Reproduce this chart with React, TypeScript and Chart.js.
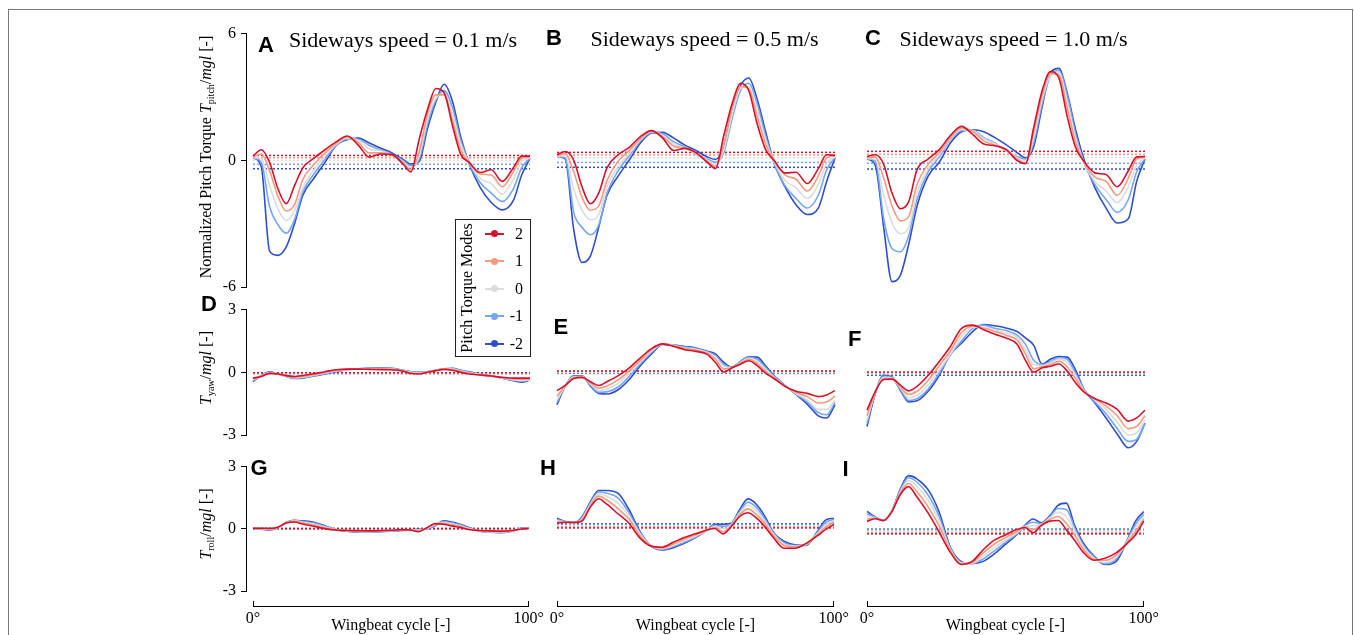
import React, { useEffect, useRef } from "react";
import { Chart, registerables } from "chart.js";

Chart.register(...registerables);

// ---------------- data ----------------
const PHASE = [0, 3, 6, 9, 12, 15, 18, 22, 26, 30, 34, 38, 42, 46, 50, 54, 57, 60, 63, 66, 69, 72, 75, 78, 82, 86, 90, 94, 97, 100];
const MODE_LABELS = ["2", "1", "0", "-1", "-2"];
const MODE_COLORS = ["#d7102b", "#f59a7c", "#dcdcdc", "#74a6f4", "#2d4ec8"];
const SPEED_LABELS = ["0.1", "0.5", "1.0"];
const PITCH_TICKS = [-6, 0, 6];
const SIDE_TICKS = [-3, 0, 3];
const PHASE_TICKS = [0, 100];

// Panel A: pitch, 0.1 m/s
const A_MODE2 = [0.2, 0.5, -0.1, -1.35, -2.05, -1.2, -0.35, 0.1, 0.5, 0.87, 1.15, 0.72, 0.15, 0.3, 0.28, -0.15, -0.55, 1.0, 2.4, 3.4, 3.2, 1.65, 0.28, -0.1, -0.58, -0.45, -1.0, -0.35, 0.2, 0.2];
const A_MODE1 = [0.15, 0.3, -0.5, -1.7, -2.4, -2.1, -0.9, -0.2, 0.35, 0.8, 1.1, 0.85, 0.35, 0.35, 0.25, -0.1, -0.45, 0.4, 2.2, 3.1, 3.1, 1.9, 0.5, -0.1, -0.65, -0.7, -1.25, -0.55, 0.1, 0.15];
const A_MODE0 = [0.12, 0.1, -1.2, -2.3, -2.85, -2.4, -1.3, -0.45, 0.2, 0.75, 1.05, 0.95, 0.55, 0.45, 0.25, -0.05, -0.35, 0.2, 1.95, 2.95, 3.15, 2.2, 0.75, -0.1, -0.85, -1.1, -1.6, -0.9, -0.05, 0.12];
const A_MODEm1 = [0.12, -0.1, -2.2, -3.05, -3.45, -2.8, -1.5, -0.65, 0.05, 0.72, 1.0, 1.0, 0.7, 0.5, 0.3, 0.0, -0.25, 0.05, 1.7, 2.85, 3.3, 2.5, 0.95, -0.12, -1.05, -1.55, -1.95, -1.35, -0.35, 0.1];
const A_MODEm2 = [0.12, -0.3, -4.3, -4.5, -4.1, -3.0, -1.65, -0.85, -0.1, 0.7, 0.98, 1.05, 0.82, 0.58, 0.36, 0.05, -0.18, -0.05, 1.5, 2.75, 3.6, 2.8, 1.1, -0.15, -1.28, -2.0, -2.35, -1.9, -0.7, 0.1];
const A_MEANS = [0.23, 0.12, 0.0, -0.19, -0.4];

// Panel B: pitch, 0.5 m/s
const B_MODE2 = [0.2, 0.35, -0.05, -1.3, -2.1, -1.6, -0.4, 0.2, 0.55, 1.05, 1.33, 0.98, 0.4, 0.5, 0.3, -0.15, -0.45, 1.1, 2.6, 3.55, 3.2, 1.65, 0.45, -0.05, -0.66, -0.62, -1.15, -0.45, 0.2, 0.17];
const B_MODE1 = [0.15, 0.25, -0.6, -1.8, -2.4, -2.2, -1.0, -0.1, 0.4, 0.95, 1.3, 1.05, 0.6, 0.5, 0.28, -0.1, -0.35, 0.7, 2.4, 3.4, 3.3, 2.0, 0.7, -0.05, -0.75, -0.95, -1.5, -0.8, 0.05, 0.15];
const B_MODE0 = [0.12, 0.15, -1.4, -2.4, -2.85, -2.6, -1.3, -0.35, 0.25, 0.9, 1.28, 1.1, 0.7, 0.5, 0.25, -0.05, -0.25, 0.45, 2.1, 3.3, 3.4, 2.3, 0.9, -0.1, -1.0, -1.35, -1.85, -1.2, -0.2, 0.1];
const B_MODEm1 = [0.12, 0.05, -2.5, -3.2, -3.55, -3.1, -1.6, -0.55, 0.15, 0.85, 1.25, 1.18, 0.8, 0.55, 0.22, 0.0, -0.15, 0.3, 1.9, 3.2, 3.55, 2.6, 1.1, -0.15, -1.25, -1.85, -2.3, -1.7, -0.5, 0.08];
const B_MODEm2 = [0.12, 0.0, -3.3, -4.85, -4.55, -3.2, -1.7, -0.8, -0.05, 0.75, 1.22, 1.25, 0.98, 0.65, 0.4, 0.1, -0.02, 0.6, 2.4, 3.45, 3.8, 2.8, 1.3, -0.15, -1.3, -2.15, -2.6, -2.3, -1.05, 0.05];
const B_MEANS = [0.31, 0.19, 0.05, -0.16, -0.39];

// Panel C: pitch, 1.0 m/s
const C_MODE2 = [0.12, 0.2, -0.25, -1.6, -2.33, -2.0, -0.5, 0.0, 0.44, 1.1, 1.53, 1.15, 0.7, 0.62, 0.45, -0.08, -0.22, 1.5, 3.2, 4.1, 3.8, 2.0, 0.55, -0.1, -0.65, -0.73, -1.3, -0.55, 0.1, 0.12];
const C_MODE1 = [0.05, 0.1, -0.9, -2.2, -2.9, -2.7, -1.2, -0.25, 0.3, 1.0, 1.45, 1.3, 0.85, 0.65, 0.42, 0.0, -0.2, 1.3, 3.0, 4.0, 3.95, 2.4, 0.8, -0.15, -0.85, -1.05, -1.7, -0.9, 0.0, 0.08];
const C_MODE0 = [0.02, 0.0, -1.7, -3.0, -3.5, -3.2, -1.6, -0.45, 0.2, 0.95, 1.38, 1.33, 0.95, 0.72, 0.4, 0.05, -0.1, 1.0, 2.8, 3.9, 4.05, 2.7, 1.0, -0.15, -1.05, -1.5, -2.05, -1.3, -0.3, 0.05];
const C_MODEm1 = [0.0, -0.1, -2.8, -4.2, -4.35, -3.6, -1.9, -0.6, 0.1, 0.9, 1.33, 1.35, 1.0, 0.75, 0.38, 0.1, 0.0, 0.8, 2.6, 3.9, 4.15, 3.0, 1.2, -0.15, -1.2, -1.9, -2.5, -1.9, -0.6, 0.02];
const C_MODEm2 = [0.0, -0.3, -3.2, -5.75, -5.45, -4.0, -2.2, -0.8, -0.15, 0.75, 1.28, 1.37, 1.28, 1.0, 0.67, 0.3, 0.05, 0.6, 2.45, 4.05, 4.25, 3.1, 1.4, 0.0, -1.35, -2.3, -3.0, -2.8, -1.05, 0.0];
const C_MEANS = [0.36, 0.22, 0.08, -0.2, -0.47];

// Panel D: yaw, 0.1 m/s
const D_MODE2 = [-0.28, -0.2, -0.05, -0.08, -0.16, -0.2, -0.15, -0.07, 0.03, 0.12, 0.15, 0.15, 0.14, 0.13, 0.12, 0.06, -0.06, -0.08, 0.0, 0.08, 0.14, 0.1, 0.0, -0.08, -0.13, -0.18, -0.24, -0.28, -0.28, -0.28];
const D_MODE1 = [-0.32, -0.18, -0.03, -0.08, -0.18, -0.23, -0.2, -0.11, 0.0, 0.1, 0.14, 0.16, 0.16, 0.15, 0.14, 0.08, -0.03, -0.06, 0.0, 0.08, 0.15, 0.13, 0.03, -0.05, -0.12, -0.18, -0.26, -0.32, -0.34, -0.32];
const D_MODE0 = [-0.36, -0.17, -0.01, -0.08, -0.19, -0.26, -0.23, -0.14, -0.03, 0.07, 0.13, 0.16, 0.17, 0.17, 0.16, 0.09, 0.0, -0.04, 0.01, 0.09, 0.16, 0.15, 0.06, -0.02, -0.1, -0.18, -0.27, -0.35, -0.39, -0.35];
const D_MODEm1 = [-0.4, -0.16, 0.0, -0.08, -0.2, -0.28, -0.26, -0.16, -0.06, 0.05, 0.12, 0.17, 0.18, 0.19, 0.18, 0.1, 0.02, -0.02, 0.02, 0.1, 0.17, 0.17, 0.08, 0.0, -0.09, -0.18, -0.28, -0.38, -0.43, -0.36];
const D_MODEm2 = [-0.44, -0.15, 0.02, -0.08, -0.2, -0.3, -0.28, -0.18, -0.08, 0.03, 0.12, 0.17, 0.19, 0.2, 0.19, 0.1, 0.03, 0.0, 0.03, 0.1, 0.17, 0.19, 0.1, 0.02, -0.08, -0.18, -0.28, -0.4, -0.47, -0.37];
const D_MEANS = [-0.02, -0.03, -0.04, -0.05, -0.06];

// Panel E: yaw, 0.5 m/s
const E_MODE2 = [-0.92, -0.67, -0.35, -0.3, -0.5, -0.68, -0.5, -0.22, 0.15, 0.62, 1.05, 1.27, 1.15, 1.0, 0.92, 0.78, 0.4, -0.05, 0.15, 0.32, 0.48, 0.25, -0.1, -0.35, -0.72, -0.95, -1.05, -1.2, -1.12, -0.92];
const E_MODE1 = [-1.18, -0.7, -0.32, -0.3, -0.55, -0.8, -0.7, -0.42, 0.02, 0.5, 1.0, 1.27, 1.18, 1.05, 0.98, 0.83, 0.55, 0.1, 0.15, 0.36, 0.55, 0.35, -0.02, -0.3, -0.72, -1.0, -1.2, -1.5, -1.45, -1.18];
const E_MODE0 = [-1.35, -0.7, -0.28, -0.27, -0.6, -0.9, -0.85, -0.58, -0.1, 0.42, 0.93, 1.27, 1.2, 1.08, 1.02, 0.87, 0.65, 0.22, 0.16, 0.4, 0.6, 0.45, 0.08, -0.27, -0.7, -1.05, -1.35, -1.8, -1.8, -1.35];
const E_MODEm1 = [-1.48, -0.7, -0.25, -0.24, -0.65, -1.0, -0.98, -0.75, -0.25, 0.33, 0.87, 1.26, 1.21, 1.12, 1.05, 0.9, 0.73, 0.3, 0.17, 0.43, 0.64, 0.55, 0.17, -0.23, -0.68, -1.08, -1.45, -1.95, -2.05, -1.48];
const E_MODEm2 = [-1.58, -0.7, -0.22, -0.22, -0.7, -1.05, -1.08, -0.88, -0.4, 0.25, 0.8, 1.25, 1.22, 1.15, 1.08, 0.93, 0.8, 0.4, 0.18, 0.45, 0.67, 0.65, 0.25, -0.2, -0.67, -1.1, -1.55, -2.1, -2.2, -1.58];
const E_MEANS = [0.0, -0.02, -0.05, -0.09, -0.11];

// Panel F: yaw, 1.0 m/s
const F_MODE2 = [-1.84, -0.95, -0.4, -0.38, -0.66, -0.93, -0.72, -0.2, 0.45, 1.15, 2.0, 2.15, 1.93, 1.72, 1.55, 1.25, 0.5, -0.05, 0.15, 0.22, 0.33, 0.0, -0.55, -0.98, -1.3, -1.5, -1.8, -2.35, -2.2, -1.84];
const F_MODE1 = [-2.1, -1.0, -0.35, -0.35, -0.75, -1.1, -0.95, -0.45, 0.25, 0.95, 1.8, 2.1, 2.0, 1.85, 1.68, 1.45, 0.8, 0.1, 0.2, 0.3, 0.45, 0.2, -0.35, -0.95, -1.3, -1.65, -2.1, -2.7, -2.6, -2.1];
const F_MODE0 = [-2.3, -1.0, -0.3, -0.33, -0.8, -1.25, -1.15, -0.65, 0.05, 0.8, 1.6, 2.05, 2.05, 1.92, 1.78, 1.58, 1.0, 0.3, 0.25, 0.38, 0.55, 0.4, -0.2, -0.9, -1.35, -1.8, -2.4, -3.0, -2.9, -2.3];
const F_MODEm1 = [-2.45, -1.02, -0.25, -0.3, -0.85, -1.38, -1.3, -0.85, -0.1, 0.75, 1.4, 2.0, 2.15, 2.0, 1.9, 1.68, 1.25, 0.5, 0.3, 0.45, 0.62, 0.55, -0.1, -0.85, -1.45, -2.0, -2.7, -3.3, -3.2, -2.45];
const F_MODEm2 = [-2.6, -1.05, -0.2, -0.28, -0.9, -1.45, -1.4, -0.95, -0.2, 0.8, 1.3, 1.85, 2.18, 2.12, 2.02, 1.85, 1.55, 1.2, 0.32, 0.55, 0.68, 0.65, 0.05, -0.85, -1.5, -2.2, -2.95, -3.6, -3.3, -2.44];
const F_MEANS = [-0.05, -0.08, -0.12, -0.16, -0.2];

// Panel G: roll, 0.1 m/s
const G_MODE2 = [0.02, 0.03, 0.02, 0.08, 0.28, 0.33, 0.23, 0.12, 0.01, -0.06, -0.08, -0.09, -0.1, -0.09, -0.07, -0.04, -0.06, -0.14, 0.05, 0.25, 0.22, 0.14, 0.07, -0.03, -0.08, -0.1, -0.11, -0.08, -0.02, 0.02];
const G_MODE1 = [0.02, 0.02, 0.0, 0.07, 0.29, 0.36, 0.28, 0.18, 0.05, -0.05, -0.09, -0.11, -0.12, -0.1, -0.08, -0.05, -0.05, -0.1, 0.03, 0.22, 0.27, 0.19, 0.11, 0.0, -0.09, -0.12, -0.13, -0.09, -0.01, 0.03];
const G_MODE0 = [0.02, 0.01, -0.02, 0.06, 0.29, 0.38, 0.32, 0.23, 0.09, -0.04, -0.1, -0.13, -0.14, -0.12, -0.09, -0.06, -0.05, -0.07, 0.02, 0.2, 0.31, 0.24, 0.15, 0.03, -0.1, -0.14, -0.15, -0.1, 0.0, 0.04];
const G_MODEm1 = [0.02, 0.0, -0.04, 0.05, 0.3, 0.4, 0.35, 0.28, 0.12, -0.04, -0.11, -0.15, -0.16, -0.13, -0.1, -0.07, -0.05, -0.05, 0.0, 0.17, 0.35, 0.29, 0.19, 0.06, -0.1, -0.16, -0.17, -0.11, 0.01, 0.05];
const G_MODEm2 = [0.02, -0.02, -0.06, 0.05, 0.3, 0.41, 0.38, 0.32, 0.15, -0.04, -0.12, -0.16, -0.17, -0.14, -0.11, -0.08, -0.05, -0.03, -0.01, 0.15, 0.38, 0.33, 0.22, 0.08, -0.11, -0.17, -0.19, -0.12, 0.02, 0.05];
const G_MEANS = [0.0, 0.01, 0.01, 0.02, 0.02];

// Panel H: roll, 0.5 m/s
const H_MODE2 = [0.2, 0.25, 0.24, 0.3, 0.95, 1.36, 1.1, 0.65, 0.2, -0.5, -0.88, -0.93, -0.7, -0.47, -0.3, -0.12, -0.05, -0.3, 0.05, 0.52, 0.7, 0.45, 0.05, -0.45, -0.98, -0.98, -0.75, -0.4, -0.1, 0.14];
const H_MODE1 = [0.26, 0.26, 0.23, 0.35, 1.02, 1.48, 1.3, 0.9, 0.4, -0.4, -0.87, -0.97, -0.78, -0.55, -0.36, -0.14, 0.0, -0.2, 0.1, 0.6, 0.88, 0.62, 0.2, -0.35, -0.85, -0.92, -0.78, -0.35, 0.0, 0.26];
const H_MODE0 = [0.32, 0.27, 0.22, 0.4, 1.08, 1.58, 1.48, 1.15, 0.55, -0.3, -0.87, -1.0, -0.85, -0.63, -0.42, -0.15, 0.06, -0.06, 0.14, 0.68, 1.05, 0.8, 0.32, -0.28, -0.78, -0.88, -0.8, -0.3, 0.12, 0.32];
const H_MODEm1 = [0.38, 0.28, 0.22, 0.45, 1.14, 1.68, 1.62, 1.4, 0.7, -0.25, -0.88, -1.03, -0.9, -0.7, -0.45, -0.15, 0.1, 0.05, 0.17, 0.76, 1.2, 0.95, 0.43, -0.24, -0.72, -0.85, -0.83, -0.25, 0.24, 0.38];
const H_MODEm2 = [0.44, 0.28, 0.22, 0.5, 1.2, 1.75, 1.75, 1.62, 0.85, -0.2, -0.88, -1.06, -0.95, -0.75, -0.48, -0.15, 0.15, 0.15, 0.2, 0.85, 1.35, 1.1, 0.55, -0.2, -0.65, -0.82, -0.85, -0.2, 0.35, 0.44];
const H_MEANS = [-0.02, 0.03, 0.08, 0.12, 0.17];

// Panel I: roll, 1.0 m/s
const I_MODE2 = [0.29, 0.41, 0.33, 0.75, 1.55, 1.93, 1.45, 0.7, -0.2, -1.15, -1.75, -1.6, -1.05, -0.6, -0.35, -0.1, 0.0, -0.25, 0.1, 0.3, 0.33, -0.1, -0.6, -1.15, -1.55, -1.45, -1.2, -0.75, -0.35, 0.3];
const I_MODE1 = [0.4, 0.43, 0.33, 0.77, 1.62, 2.08, 1.7, 1.0, 0.1, -1.05, -1.72, -1.65, -1.2, -0.78, -0.48, -0.2, 0.02, -0.1, 0.12, 0.38, 0.52, 0.2, -0.35, -1.0, -1.5, -1.55, -1.3, -0.7, -0.2, 0.4];
const I_MODE0 = [0.52, 0.45, 0.33, 0.78, 1.68, 2.22, 1.95, 1.3, 0.35, -1.0, -1.68, -1.68, -1.35, -0.95, -0.6, -0.27, 0.05, 0.08, 0.15, 0.45, 0.72, 0.52, -0.15, -0.88, -1.45, -1.65, -1.4, -0.65, 0.0, 0.52];
const I_MODEm1 = [0.64, 0.48, 0.33, 0.79, 1.74, 2.35, 2.15, 1.55, 0.55, -0.95, -1.64, -1.7, -1.48, -1.1, -0.7, -0.32, 0.08, 0.25, 0.18, 0.5, 0.9, 0.85, 0.0, -0.8, -1.4, -1.72, -1.5, -0.62, 0.15, 0.64];
const I_MODEm2 = [0.76, 0.5, 0.33, 0.8, 1.8, 2.45, 2.3, 1.8, 0.75, -0.9, -1.6, -1.7, -1.6, -1.25, -0.8, -0.35, 0.1, 0.4, 0.22, 0.55, 1.05, 1.15, 0.1, -0.7, -1.35, -1.75, -1.6, -0.6, 0.3, 0.76];
const I_MEANS = [-0.3, -0.24, -0.17, -0.12, -0.08];

// ---------------- layout ----------------
const SERIF = "'Liberation Serif', 'Times New Roman', serif";
const SANS = "'Liberation Sans', Arial, sans-serif";
const COL_LEFT = [253, 557, 867];
const COL_WIDTH = [277, 278, 278];
const ROW_TOP = [31, 307, 464];
const ROW_HEIGHT = [256, 128, 127];

type PanelProps = {
  series: number[][];
  means: number[];
  range: number;
  ticks: number[];
  row: number;
  col: number;
};

function Panel({ series, means, range, ticks, row, col }: PanelProps) {
  const ref = useRef<HTMLCanvasElement>(null);
  const showY = col === 0;
  const showX = row === 2;
  const T = 12;
  const R = 22;
  const L = showY ? 60 : 22;
  const B = 22;
  const left = COL_LEFT[col];
  const top = ROW_TOP[row];
  const w = COL_WIDTH[col];
  const h = ROW_HEIGHT[row];
  const cx = left - L;
  const cy = top - T;
  const cw = w + L + R;
  const ch = showX ? 635 - cy : h + T + B;

  useEffect(() => {
    const canvas = ref.current;
    if (!canvas) return;
    const datasets: any[] = [];
    series.forEach((s, i) => {
      datasets.push({
        label: MODE_LABELS[i],
        data: PHASE.map((p, k) => ({ x: p, y: s[k] })),
        borderColor: MODE_COLORS[i],
        backgroundColor: MODE_COLORS[i],
        borderWidth: 1.6,
        pointRadius: 0,
        cubicInterpolationMode: "monotone",
        fill: false,
        clip: false,
        xAxisID: "x",
        yAxisID: "y",
      });
    });
    means.forEach((m, i) => {
      datasets.push({
        label: MODE_LABELS[i] + " mean",
        data: [
          { x: 0, y: m },
          { x: 100, y: m },
        ],
        borderColor: MODE_COLORS[i],
        borderWidth: 1.5,
        borderDash: [2, 2],
        pointRadius: 0,
        fill: false,
        clip: false,
        xAxisID: "x",
        yAxisID: "y",
      });
    });

    const font = { family: SERIF, size: 16 };
    const scales: any = {
      x: {
        type: "linear",
        axis: "x",
        position: "bottom",
        min: 0,
        max: 100,
        display: showX,
        ticks: { display: false },
        grid: { display: false },
        border: { display: false },
        afterFit: showX ? (s: any) => { s.height = 15; } : undefined,
      },
      y: {
        type: "linear",
        axis: "y",
        position: "left",
        min: -range,
        max: range,
        display: showY,
        ticks: { display: false },
        grid: { display: false },
        border: { display: false },
        afterFit: showY ? (s: any) => { s.width = 7; } : undefined,
      },
    };
    if (showX) {
      scales.xAxis = {
        type: "linear",
        axis: "x",
        position: "bottom",
        min: 0,
        max: 100,
        afterBuildTicks: (s: any) => {
          s.ticks = PHASE_TICKS.map((v) => ({ value: v }));
        },
        ticks: {
          font,
          color: "#000",
          padding: 8,
          maxRotation: 0,
          autoSkip: false,
          callback: (v: any) => `${v}°`,
        },
        grid: { display: true, drawOnChartArea: false, drawTicks: true, tickLength: -5, color: "#000", lineWidth: 1 },
        border: { display: true, color: "#000", width: 1 },
        title: { display: true, text: "Wingbeat cycle [-]", font, color: "#000", padding: { top: 0, bottom: 0 } },
        afterFit: (s: any) => { s.height = 29; },
      };
    }
    if (showY) {
      scales.yAxis = {
        type: "linear",
        axis: "y",
        position: "left",
        min: -range,
        max: range,
        afterBuildTicks: (s: any) => {
          s.ticks = ticks.map((v) => ({ value: v }));
        },
        ticks: { font, color: "#000", padding: 5, callback: (v: any) => String(v) },
        grid: { display: true, drawOnChartArea: false, drawTicks: true, tickLength: 5, color: "#000", lineWidth: 1 },
        border: { display: true, color: "#000", width: 1 },
        afterFit: (s: any) => { s.width = 45; },
      };
    }

    const chart = new Chart(canvas, {
      type: "line",
      data: { datasets },
      options: {
        responsive: false,
        maintainAspectRatio: false,
        animation: false,
        events: [],
        layout: {
          padding: {
            left: L - (showY ? 52 : 0),
            right: R,
            top: T,
            bottom: showX ? 0 : B,
          },
        },
        plugins: { legend: { display: false }, tooltip: { enabled: false }, title: { display: false } },
        scales,
      } as any,
    });
    return () => chart.destroy();
  }, []);

  return (
    <canvas
      ref={ref}
      width={cw}
      height={ch}
      style={{ position: "absolute", left: cx, top: cy, width: cw, height: ch }}
    />
  );
}

function VText({ cx, cy, children }: { cx: number; cy: number; children: any }) {
  return (
    <div
      style={{
        position: "absolute",
        left: cx,
        top: cy,
        transform: "translate(-50%, -50%) rotate(-90deg)",
        whiteSpace: "nowrap",
        fontFamily: SERIF,
        fontSize: 16,
        lineHeight: "18px",
        color: "#000",
      }}
    >
      {children}
    </div>
  );
}

function Letter({ x, baseline, ch }: { x: number; baseline: number; ch: string }) {
  return (
    <div
      style={{
        position: "absolute",
        left: x,
        top: baseline - 18.6,
        fontFamily: SANS,
        fontWeight: "bold",
        fontSize: 22,
        lineHeight: "22px",
        color: "#000",
      }}
    >
      {ch}
    </div>
  );
}

function Title({ x, baseline, text }: { x: number; baseline: number; text: string }) {
  return (
    <div
      style={{
        position: "absolute",
        left: x,
        top: baseline - 18.4,
        fontFamily: SERIF,
        fontSize: 22,
        lineHeight: "22px",
        color: "#000",
        whiteSpace: "nowrap",
      }}
    >
      {text}
    </div>
  );
}

const sub = { fontSize: 10, position: "relative" as const, top: 3, fontStyle: "normal" as const };

export default function App() {
  const panels = [
    { id: "A", series: [A_MODE2, A_MODE1, A_MODE0, A_MODEm1, A_MODEm2], means: A_MEANS, row: 0, col: 0 },
    { id: "B", series: [B_MODE2, B_MODE1, B_MODE0, B_MODEm1, B_MODEm2], means: B_MEANS, row: 0, col: 1 },
    { id: "C", series: [C_MODE2, C_MODE1, C_MODE0, C_MODEm1, C_MODEm2], means: C_MEANS, row: 0, col: 2 },
    { id: "D", series: [D_MODE2, D_MODE1, D_MODE0, D_MODEm1, D_MODEm2], means: D_MEANS, row: 1, col: 0 },
    { id: "E", series: [E_MODE2, E_MODE1, E_MODE0, E_MODEm1, E_MODEm2], means: E_MEANS, row: 1, col: 1 },
    { id: "F", series: [F_MODE2, F_MODE1, F_MODE0, F_MODEm1, F_MODEm2], means: F_MEANS, row: 1, col: 2 },
    { id: "G", series: [G_MODE2, G_MODE1, G_MODE0, G_MODEm1, G_MODEm2], means: G_MEANS, row: 2, col: 0 },
    { id: "H", series: [H_MODE2, H_MODE1, H_MODE0, H_MODEm1, H_MODEm2], means: H_MEANS, row: 2, col: 1 },
    { id: "I", series: [I_MODE2, I_MODE1, I_MODE0, I_MODEm1, I_MODEm2], means: I_MEANS, row: 2, col: 2 },
  ];
  const legendY = [233.5, 261, 288.5, 316, 343.5];
  return (
    <div
      style={{
        position: "fixed",
        left: 0,
        top: 0,
        width: 1354,
        height: 635,
        overflow: "hidden",
        background: "#fff",
      }}
    >
      <div
        style={{
          position: "absolute",
          left: 8,
          top: 9,
          width: 1345,
          height: 640,
          boxSizing: "border-box",
          borderTop: "1px solid #777",
          borderLeft: "1px solid #777",
          borderRight: "1px solid #777",
        }}
      />
      {panels.map((p) => (
        <Panel
          key={p.id}
          series={p.series}
          means={p.means}
          range={p.row === 0 ? 6 : 3}
          ticks={p.row === 0 ? PITCH_TICKS : SIDE_TICKS}
          row={p.row}
          col={p.col}
        />
      ))}

      <Letter x={258} baseline={52.4} ch="A" />
      <Letter x={546} baseline={46} ch="B" />
      <Letter x={865} baseline={46} ch="C" />
      <Letter x={201} baseline={312} ch="D" />
      <Letter x={553.5} baseline={335} ch="E" />
      <Letter x={848} baseline={347} ch="F" />
      <Letter x={250.5} baseline={476} ch="G" />
      <Letter x={540} baseline={476} ch="H" />
      <Letter x={842.5} baseline={477} ch="I" />

      <Title x={289} baseline={47} text={`Sideways speed = ${SPEED_LABELS[0]} m/s`} />
      <Title x={590.5} baseline={46.7} text={`Sideways speed = ${SPEED_LABELS[1]} m/s`} />
      <Title x={899.5} baseline={46.7} text={`Sideways speed = ${SPEED_LABELS[2]} m/s`} />

      <VText cx={207} cy={157}>
        Normalized Pitch Torque <i>T</i>
        <span style={sub}>pitch</span>/<i>mgl</i> [-]
      </VText>
      <VText cx={207} cy={368}>
        <i>T</i>
        <span style={sub}>yaw</span>/<i>mgl</i> [-]
      </VText>
      <VText cx={207} cy={524}>
        <i>T</i>
        <span style={sub}>roll</span>/<i>mgl</i> [-]
      </VText>

      {/* legend */}
      <div
        style={{
          position: "absolute",
          left: 455,
          top: 219,
          width: 76,
          height: 138,
          boxSizing: "border-box",
          border: "1px solid #222",
          background: "#fff",
        }}
      />
      <VText cx={466.5} cy={287.5}>Pitch Torque Modes</VText>
      {MODE_LABELS.map((lab, i) => (
        <React.Fragment key={lab}>
          <div
            style={{
              position: "absolute",
              left: 485,
              top: legendY[i] - 1,
              width: 19,
              height: 2,
              background: MODE_COLORS[i],
            }}
          />
          <div
            style={{
              position: "absolute",
              left: 491,
              top: legendY[i] - 3.5,
              width: 7,
              height: 7,
              borderRadius: "50%",
              background: MODE_COLORS[i],
            }}
          />
          <div
            style={{
              position: "absolute",
              left: 503,
              top: legendY[i] - 10,
              width: 20,
              height: 20,
              lineHeight: "20px",
              textAlign: "right",
              fontFamily: SERIF,
              fontSize: 16,
              color: "#000",
            }}
          >
            {lab}
          </div>
        </React.Fragment>
      ))}
    </div>
  );
}
